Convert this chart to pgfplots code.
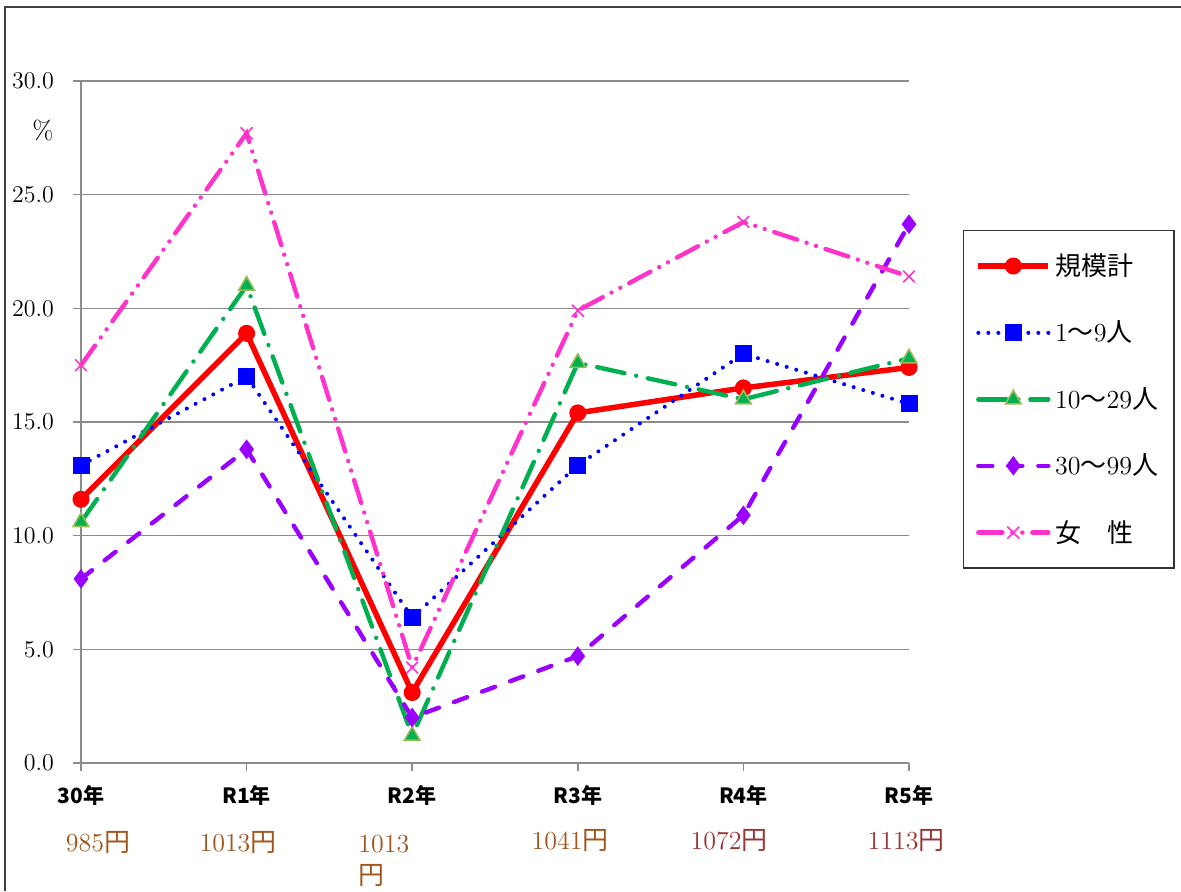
\documentclass[border=0pt]{standalone}
\usepackage{fontspec}
\usepackage{pgfplots}
\pgfplotsset{compat=1.18}
\newfontfamily\cjk{Noto Sans CJK JP}
\definecolor{cred}{HTML}{FF0000}
\definecolor{cblue}{HTML}{0000FF}
\definecolor{cgreen}{HTML}{00B050}
\definecolor{colive}{HTML}{9BBB59}
\definecolor{cpurple}{HTML}{9900FF}
\definecolor{cpink}{HTML}{FF33CC}
\definecolor{brownA}{HTML}{A0561C}
\definecolor{brownB}{HTML}{9B3535}
\begin{document}
\begin{tikzpicture}
\useasboundingbox (0,0) rectangle (590.5pt,445.5pt);
\draw[line width=1pt, black!75] (2.5pt,0pt) -- (2.5pt,442pt) -- (590.5pt,442pt);
\begin{axis}[
  at={(40.5pt,64pt)}, anchor=south west,
  scale only axis, width=414pt, height=341pt,
  xmin=0, xmax=5, ymin=0, ymax=30,
  clip=false,
  axis x line*=bottom, axis y line*=left,
  axis line style={black!45, line width=0.75pt},
  xtick={0,1,2,3,4,5},
  xticklabels={30年,R1年,R2年,R3年,R4年,R5年},
  ytick={0,5,10,15,20,25,30},
  ymajorgrids, grid style={black!45, line width=0.75pt},
  tick align=outside, major tick length=4pt,
  tick style={black!45, line width=0.75pt},
  yticklabel={\pgfmathprintnumber[fixed,fixed zerofill,precision=1]{\tick}},
  y tick label style={font=\fontsize{12}{13}\selectfont, xshift=-6pt},
  x tick label style={font=\cjk\bfseries\fontsize{10.5}{12}\selectfont, yshift=-3.5pt},
  legend style={at={(1.0652,0.7815)}, anchor=north west, draw=black!80, line width=0.6pt,
    font=\fontsize{13}{14}\selectfont, row sep=17.2pt, inner xsep=6pt, inner ysep=9.5pt,
    cells={anchor=west}},
  legend image code/.code={\draw[mark repeat=2,mark phase=2,#1] plot coordinates {(0pt,0pt) (17.5pt,0pt) (35pt,0pt)};},
]
\addplot[color=cred, line width=2.75pt, mark=*, mark size=4pt, mark options={solid, fill=cred, line width=0.5pt}]
  coordinates {(0,11.6) (1,18.9) (2,3.1) (3,15.4) (4,16.5) (5,17.4)};
\addlegendentry{{\cjk 規模計}}
\addplot[color=cblue, line width=2pt, line cap=round, dash pattern=on 0pt off 5pt, mark=square*, mark size=4pt, mark options={solid, fill=cblue, line width=0.5pt}]
  coordinates {(0,13.1) (1,17.0) (2,6.4) (3,13.1) (4,18.0) (5,15.8)};
\addlegendentry{1{\cjk ～}9{\cjk 人}}
\addplot[color=cgreen, line width=2.2pt, line cap=round, dash pattern=on 14pt off 6pt on 0pt off 6pt, mark=triangle*, mark size=4.5pt, mark options={solid, fill=cgreen, draw=colive, line width=0.8pt}]
  coordinates {(0,10.6) (1,21.0) (2,1.2) (3,17.6) (4,16.0) (5,17.8)};
\addlegendentry{10{\cjk ～}29{\cjk 人}}
\addplot[color=cpurple, line width=2.2pt, line cap=round, dash pattern=on 7pt off 8pt, mark=diamond*, mark size=4.5pt, mark options={solid, fill=cpurple, line width=0.5pt}]
  coordinates {(0,8.1) (1,13.8) (2,2.0) (3,4.7) (4,10.9) (5,23.7)};
\addlegendentry{30{\cjk ～}99{\cjk 人}}
\addplot[color=cpink, line width=2.2pt, line cap=round, dash pattern=on 12pt off 5pt on 0pt off 5pt on 0pt off 5pt, mark=x, mark size=4pt, mark options={solid, line width=0.8pt}]
  coordinates {(0,17.5) (1,27.7) (2,4.2) (3,19.9) (4,23.8) (5,21.4)};
\addlegendentry{{\cjk 女　性}}
\end{axis}
\node[font=\fontsize{13}{14}\selectfont] at (21.5pt,380.5pt) {\%};
\node[font=\fontsize{13}{16}\selectfont, text=brownA] at (49pt,24pt) {985{\cjk 円}};
\node[font=\fontsize{13}{16}\selectfont, text=brownA] at (119pt,24pt) {1013{\cjk 円}};
\node[font=\fontsize{13}{16}\selectfont, text=brownA, align=left, anchor=west, inner xsep=0pt] at (179pt,15pt) {1013\\{\cjk 円}};
\node[font=\fontsize{13}{16}\selectfont, text=brownA] at (285pt,25pt) {1041{\cjk 円}};
\node[font=\fontsize{13}{16}\selectfont, text=brownB] at (364.5pt,25pt) {1072{\cjk 円}};
\node[font=\fontsize{13}{16}\selectfont, text=brownB] at (453pt,25pt) {1113{\cjk 円}};
\end{tikzpicture}
\end{document}
